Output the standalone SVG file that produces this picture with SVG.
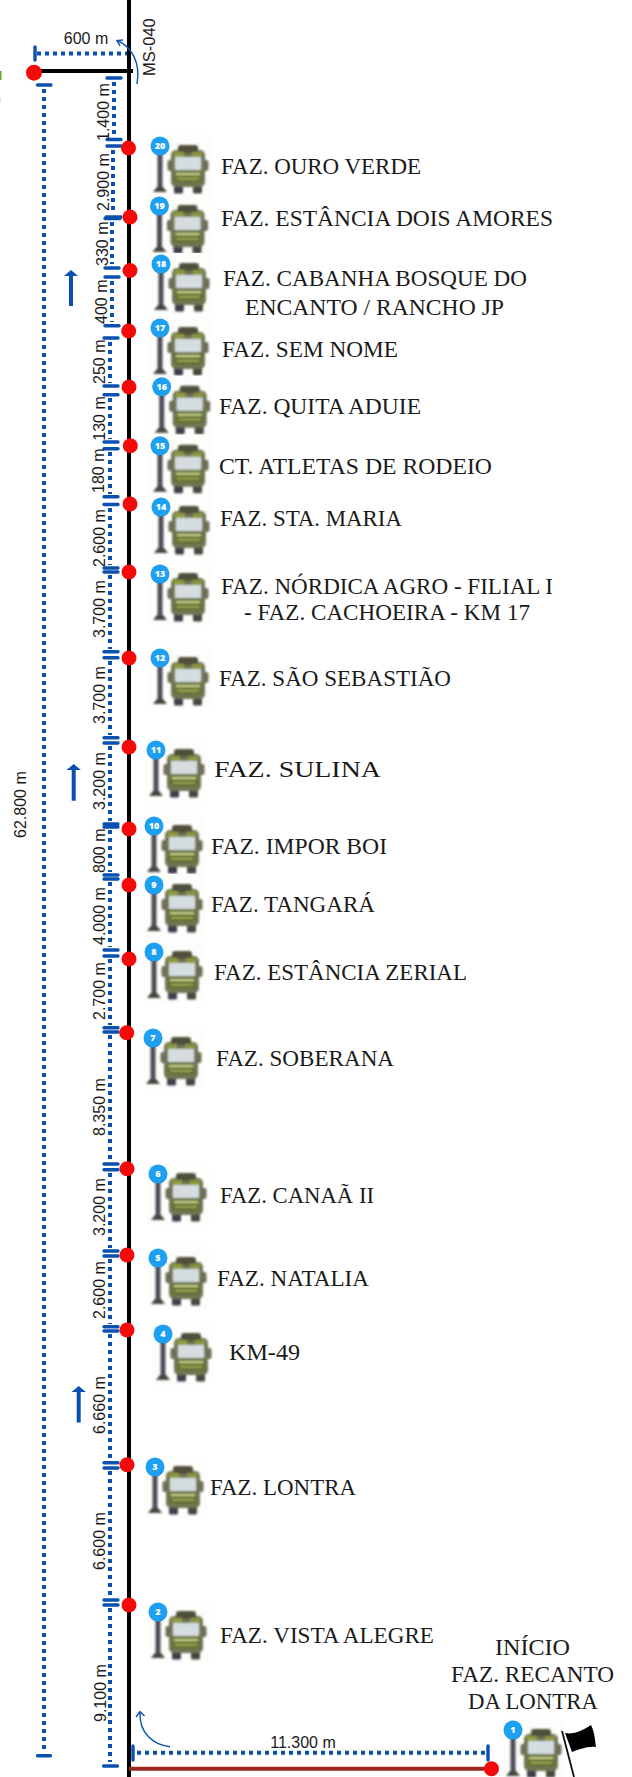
<svg xmlns="http://www.w3.org/2000/svg" width="632" height="1777" viewBox="0 0 632 1777">
<style>
.lb{font-family:"Liberation Serif","Noto Serif",serif;font-size:22.5px;fill:#1a1a1a}
.dm{font-family:"Liberation Sans",Arial,sans-serif;font-size:16px;fill:#1a1a1a}
.num{font-family:"Open Sans","Liberation Sans",sans-serif;font-size:9px;font-weight:800;fill:#fff;text-anchor:middle}
.dot{stroke:#0a50b0;stroke-width:4;stroke-dasharray:4 4;fill:none}
.tk{stroke:#0a50b0;stroke-width:3.400;stroke-linecap:round;fill:none}
.red{fill:#f50a0a}
.thin{stroke:#0a50b0;stroke-width:1.400;fill:none}
</style>
<defs>
<filter id="soft" x="-10%" y="-10%" width="120%" height="120%"><feGaussianBlur stdDeviation="0.8"/></filter>
<g id="icon">
<rect x="-11" y="-11" width="62" height="62" fill="#fdfdfc"/>
<g filter="url(#soft)">
<rect x="-2.500" y="7" width="5" height="36" fill="#4d4b57"/>
<path d="M-7 46 L-3 41 L3 41 L7 46Z" fill="#45453f"/>
<rect x="7.500" y="14" width="5" height="11" rx="2" fill="#6c6c58"/>
<rect x="43.500" y="14" width="5" height="11" rx="2" fill="#6c6c58"/>
<rect x="14" y="38" width="9" height="9.500" rx="1.500" fill="#3c3c4c"/>
<rect x="33" y="38" width="9" height="9.500" rx="1.500" fill="#47473f"/>
<rect x="11" y="4" width="34" height="37" rx="5" fill="#6e7452"/>
<rect x="18" y="-1" width="20" height="8" rx="3" fill="#4f4f3a"/>
<rect x="14" y="6" width="10" height="5" fill="#8f9b3c"/>
<rect x="32" y="6" width="10" height="5" fill="#8a9440"/>
<rect x="15" y="11" width="26" height="13" rx="1" fill="#d6dde0"/>
<rect x="15" y="25" width="26" height="11" fill="#5f6e24"/>
<rect x="16" y="27" width="24" height="2.200" fill="#c8d090"/>
<rect x="17" y="32" width="22" height="1.600" fill="#a9b46a"/>
</g>
<path d="M-8 5 A9.500 9.500 0 0 0 8 5 L0 10.500Z" fill="#2c4a66"/>
<circle cx="0" cy="0" r="9.500" fill="#1d9ff2"/>
</g>
</defs>

<g id="connectors">
<path d="M129 0V1777" stroke="#000" stroke-width="4" fill="none"/>
<path d="M34 71H133" stroke="#000" stroke-width="4" fill="none"/>
<path d="M129 1768.700H491" stroke="#9a2a20" stroke-width="4" fill="none"/>
<path class="dot" d="M37 53.500H127"/><path class="tk" d="M35 47V60"/>
<path class="thin" d="M137 84C141 62 131 46 117 40.500M123 40L117 40.500L120 46"/>
<path class="thin" d="M170 1746.700C153 1745 139 1733 140 1712M136 1717L140 1711.500L144.500 1716"/>
<path class="dot" d="M44 89V1752"/><path class="tk" d="M37.500 85H51M37.500 1755.700H50.500"/>
<path class="dot" d="M137 1752.700H485"/><path class="tk" d="M133 1746V1760M488 1746V1760"/>
<g id="distance-ticks">
<path class="dot" d="M114 82V136"/>
<path class="dot" d="M113 150V214"/>
<path class="dot" d="M112 222V264"/>
<path class="dot" d="M112 281V322"/>
<path class="dot" d="M110 342V383"/>
<path class="dot" d="M110 398V439"/>
<path class="dot" d="M110 452V494"/>
<path class="dot" d="M110 508V565"/>
<path class="dot" d="M110 575V649"/>
<path class="dot" d="M110 661V735"/>
<path class="dot" d="M110 746V821"/>
<path class="dot" d="M110 830V872"/>
<path class="dot" d="M110 882V947"/>
<path class="dot" d="M110 959V1025"/>
<path class="dot" d="M110 1035V1161"/>
<path class="dot" d="M110 1173V1248"/>
<path class="dot" d="M110 1259V1324"/>
<path class="dot" d="M110 1334V1460"/>
<path class="dot" d="M110 1471V1597"/>
<path class="dot" d="M110 1608V1762"/>
<path class="tk" d="M107 78H121M107 139.500H121M107 146H121M106 217H121M105 218.500H120M105 268H119M105 277H119M105 325.700H119M104 338H118M104 386H118M104 394.700H118M104 442H118M104 448.700H118M104 496.700H118M104 504.500H118M104 568H118M104 572H118M104 651.700H118M104 657.700H118M104 737.700H118M104 743H118M104 824H118M104 827H118M104 875H118M104 879H118M104 950H118M104 956H118M104 1027.700H118M104 1032H118M104 1164H118M104 1169.700H118M104 1251H118M104 1256H118M104 1326.700H118M104 1331H118M104 1462.700H118M104 1468H118M104 1600H118M104 1605H118M103.500 1766H117.500"/>
</g>
<g id="direction-arrows" fill="#0a50b0">
<path d="M69 306V276H64L71 270L78 276H73V306Z"/>
<path d="M71.700 800.700V770H66.500L73.700 764L80.900 770H75.700V800.700Z"/>
<path d="M76.700 1422.500V1392H71.500L78.700 1386L85.900 1392H80.700V1422.500Z"/>
</g>
</g>

<g id="distance-labels" class="dm">
<text x="86" y="44" text-anchor="middle">600 m</text>
<text transform="translate(155 76) rotate(-90)" style="font-size:16.500px">MS-040</text>
<text transform="translate(26 838) rotate(-90)" style="font-size:16px">62.800 m</text>
<text x="303" y="1748" text-anchor="middle">11.300 m</text>
<text transform="translate(109 141) rotate(-90)">1.400 m</text>
<text transform="translate(109 211) rotate(-90)">2.900 m</text>
<text transform="translate(107.500 266) rotate(-90)">330 m</text>
<text transform="translate(107 324) rotate(-90)">400 m</text>
<text transform="translate(105 384) rotate(-90)">250 m</text>
<text transform="translate(105 440.700) rotate(-90)">130 m</text>
<text transform="translate(104 493) rotate(-90)">180 m</text>
<text transform="translate(105 567) rotate(-90)">2.600 m</text>
<text transform="translate(105 638) rotate(-90)">3.700 m</text>
<text transform="translate(105 724) rotate(-90)">3.700 m</text>
<text transform="translate(105 810) rotate(-90)">3.200 m</text>
<text transform="translate(105 873) rotate(-90)">800 m</text>
<text transform="translate(105 945) rotate(-90)">4.000 m</text>
<text transform="translate(105 1020) rotate(-90)">2.700 m</text>
<text transform="translate(105 1136) rotate(-90)">8.350 m</text>
<text transform="translate(105 1236) rotate(-90)">3.200 m</text>
<text transform="translate(105 1319) rotate(-90)">2.600 m</text>
<text transform="translate(105 1434) rotate(-90)">6.660 m</text>
<text transform="translate(105 1570) rotate(-90)">6.600 m</text>
<text transform="translate(105.500 1722) rotate(-90)">9.100 m</text>
</g>

<rect x="0" y="71" width="1.500" height="9" fill="#6aa820"/>
<rect x="0" y="97" width="1" height="5" fill="#cfe8f5"/>
<circle class="red" cx="34" cy="72.700" r="8"/>

<g id="stop-20"><circle class="red" cx="128.500" cy="148" r="7.500"/><use href="#icon" x="160" y="146"/><text class="num" x="160" y="149">20</text><text class="lb" x="221" y="174" textLength="200" lengthAdjust="spacingAndGlyphs">FAZ. OURO VERDE</text></g>
<g id="stop-19"><circle class="red" cx="130" cy="217" r="7.500"/><use href="#icon" x="159.500" y="206"/><text class="num" x="159.500" y="209">19</text><text class="lb" x="221" y="226" textLength="332" lengthAdjust="spacingAndGlyphs">FAZ. ESTÂNCIA DOIS AMORES</text></g>
<g id="stop-18"><circle class="red" cx="130" cy="270.500" r="7.500"/><use href="#icon" x="161" y="264"/><text class="num" x="161" y="267">18</text><text class="lb" x="223" y="286" textLength="304" lengthAdjust="spacingAndGlyphs">FAZ. CABANHA BOSQUE DO</text><text class="lb" x="245" y="315" textLength="259" lengthAdjust="spacingAndGlyphs">ENCANTO / RANCHO JP</text></g>
<g id="stop-17"><circle class="red" cx="128.700" cy="331" r="7.500"/><use href="#icon" x="160" y="328"/><text class="num" x="160" y="331">17</text><text class="lb" x="222" y="357" textLength="176" lengthAdjust="spacingAndGlyphs">FAZ. SEM NOME</text></g>
<g id="stop-16"><circle class="red" cx="129" cy="387" r="7.500"/><use href="#icon" x="161.700" y="386.700"/><text class="num" x="161.700" y="389.700">16</text><text class="lb" x="219" y="414" textLength="202" lengthAdjust="spacingAndGlyphs">FAZ. QUITA ADUIE</text></g>
<g id="stop-15"><circle class="red" cx="130.300" cy="445.700" r="7.500"/><use href="#icon" x="160" y="445.700"/><text class="num" x="160" y="448.700">15</text><text class="lb" x="219" y="474" textLength="273" lengthAdjust="spacingAndGlyphs">CT. ATLETAS DE RODEIO</text></g>
<g id="stop-14"><circle class="red" cx="130" cy="504" r="7.500"/><use href="#icon" x="161" y="507"/><text class="num" x="161" y="510">14</text><text class="lb" x="220" y="526" textLength="182" lengthAdjust="spacingAndGlyphs">FAZ. STA. MARIA</text></g>
<g id="stop-13"><circle class="red" cx="129" cy="572" r="7.500"/><use href="#icon" x="160" y="574"/><text class="num" x="160" y="577">13</text><text class="lb" x="221" y="594" textLength="332" lengthAdjust="spacingAndGlyphs">FAZ. NÓRDICA AGRO - FILIAL I</text><text class="lb" x="244" y="620" textLength="286" lengthAdjust="spacingAndGlyphs">- FAZ. CACHOEIRA - KM 17</text></g>
<g id="stop-12"><circle class="red" cx="129" cy="658" r="7.500"/><use href="#icon" x="160" y="658"/><text class="num" x="160" y="661">12</text><text class="lb" x="219" y="686" textLength="232" lengthAdjust="spacingAndGlyphs">FAZ. SÃO SEBASTIÃO</text></g>
<g id="stop-11"><circle class="red" cx="129" cy="747" r="7.500"/><use href="#icon" x="156" y="750"/><text class="num" x="156" y="753">11</text><text class="lb" x="214" y="777" textLength="167" lengthAdjust="spacingAndGlyphs">FAZ. SULINA</text></g>
<g id="stop-10"><circle class="red" cx="129" cy="829" r="7.500"/><use href="#icon" x="154" y="826"/><text class="num" x="154" y="829">10</text><text class="lb" x="211" y="854" textLength="176" lengthAdjust="spacingAndGlyphs">FAZ. IMPOR BOI</text></g>
<g id="stop-9"><circle class="red" cx="129" cy="885" r="7.500"/><use href="#icon" x="154" y="885"/><text class="num" x="154" y="888">9</text><text class="lb" x="211" y="912" textLength="164" lengthAdjust="spacingAndGlyphs">FAZ. TANGARÁ</text></g>
<g id="stop-8"><circle class="red" cx="129" cy="959" r="7.500"/><use href="#icon" x="154" y="952"/><text class="num" x="154" y="955">8</text><text class="lb" x="214" y="980" textLength="253" lengthAdjust="spacingAndGlyphs">FAZ. ESTÂNCIA ZERIAL</text></g>
<g id="stop-7"><circle class="red" cx="126.700" cy="1032.700" r="7.500"/><use href="#icon" x="153" y="1038"/><text class="num" x="153" y="1041">7</text><text class="lb" x="216" y="1066" textLength="178" lengthAdjust="spacingAndGlyphs">FAZ. SOBERANA</text></g>
<g id="stop-6"><circle class="red" cx="127" cy="1168.700" r="7.500"/><use href="#icon" x="158" y="1174"/><text class="num" x="158" y="1177">6</text><text class="lb" x="220" y="1203" textLength="154" lengthAdjust="spacingAndGlyphs">FAZ. CANAÃ II</text></g>
<g id="stop-5"><circle class="red" cx="127" cy="1255" r="7.500"/><use href="#icon" x="158" y="1258"/><text class="num" x="158" y="1261">5</text><text class="lb" x="217" y="1286" textLength="152" lengthAdjust="spacingAndGlyphs">FAZ. NATALIA</text></g>
<g id="stop-4"><circle class="red" cx="127" cy="1330" r="7.500"/><use href="#icon" x="163" y="1334"/><text class="num" x="163" y="1337">4</text><text class="lb" x="229" y="1360" textLength="71" lengthAdjust="spacingAndGlyphs">KM-49</text></g>
<g id="stop-3"><circle class="red" cx="127" cy="1464.700" r="7.500"/><use href="#icon" x="155" y="1467"/><text class="num" x="155" y="1470">3</text><text class="lb" x="210" y="1495" textLength="146" lengthAdjust="spacingAndGlyphs">FAZ. LONTRA</text></g>
<g id="stop-2"><circle class="red" cx="129" cy="1605" r="7.500"/><use href="#icon" x="158" y="1612"/><text class="num" x="158" y="1615">2</text><text class="lb" x="220" y="1643" textLength="214" lengthAdjust="spacingAndGlyphs">FAZ. VISTA ALEGRE</text></g>
<g id="stop-1"><use href="#icon" x="513" y="1730"/><text class="num" x="513" y="1733">1</text><circle class="red" cx="491.500" cy="1768.700" r="7.500"/>
<path d="M562 1731L574 1777" stroke="#111" stroke-width="1.800" fill="none"/>
<path d="M565 1733C573 1735 584 1730 591 1725C595 1733 595 1741 596 1747C587 1746 578 1750 572 1752Z" fill="#000"/>
<text class="lb" x="495" y="1655" textLength="75" lengthAdjust="spacingAndGlyphs">INÍCIO</text><text class="lb" x="451" y="1682" textLength="163" lengthAdjust="spacingAndGlyphs">FAZ. RECANTO</text><text class="lb" x="468" y="1709" textLength="130" lengthAdjust="spacingAndGlyphs">DA LONTRA</text></g>
</svg>
